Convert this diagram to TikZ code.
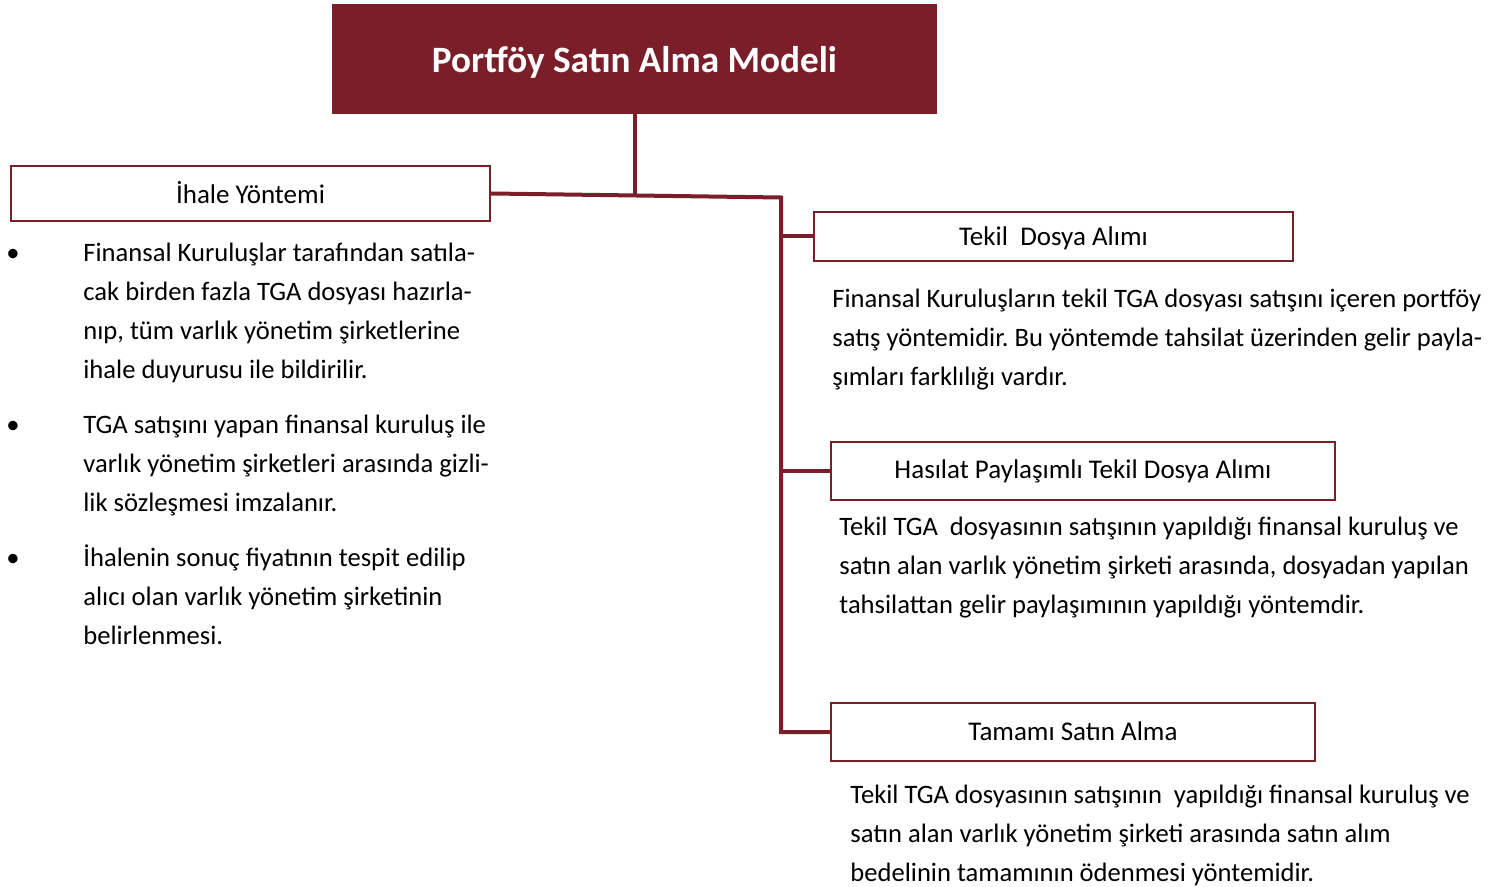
\documentclass[tikz,border=0pt]{standalone}
\usepackage{fontspec}
\setmainfont{Carlito}
\frenchspacing
\definecolor{maroon}{RGB}{122,30,42}
\tikzset{
  x=0.5pt, y=-0.5pt,
  conn/.style={draw=maroon, line width=2pt},
  headbox/.style={draw=maroon, line width=1.2pt, fill=white, inner sep=0pt,
    font=\fontsize{13.5}{17}\selectfont, text=black},
  bodytext/.style={anchor=north west, inner sep=0pt, align=left,
    font=\fontsize{13.3}{19.5}\selectfont, text=black},
  bul/.style={anchor=north west, inner sep=0pt, font=\fontsize{13.3}{19.5}\selectfont}
}
\begin{document}
\begin{tikzpicture}
\useasboundingbox (0,0) rectangle (1499,887);
% title
\node[fill=maroon, minimum width=302.5pt, minimum height=55pt, inner sep=0pt,
  text=white, font=\fontsize{18.6}{22}\bfseries] (title) at (634.5,59) {\raisebox{-7pt}[0pt][0pt]{Portföy Satın Alma Modeli}};
% heading boxes
\node[headbox, minimum width=239.5pt, minimum height=27.5pt] (ihale) at (250.5,193.5) {\raisebox{0.8pt}{İhale Yöntemi}};
\node[headbox, minimum width=239.5pt, minimum height=24.5pt] (tekil) at (1053.5,236.5) {\raisebox{-4.6pt}[0pt][0pt]{Tekil~ Dosya Alımı}};
\node[headbox, minimum width=252pt, minimum height=29pt] (hasilat) at (1083,471) {Hasılat Paylaşımlı Tekil Dosya Alımı};
\node[headbox, minimum width=242pt, minimum height=29pt] (tamami) at (1073,732) {\raisebox{0.8pt}{Tamamı Satın Alma}};
% junctions
\coordinate (jt) at (634.5,195.5);
\coordinate (jr) at (781,197.5);
\coordinate (jb) at (781,732);
% connectors
\draw[conn] (title.south) -- (jt);
\draw[conn] (ihale.east) -- (jr) -- (jb) -- (tamami.west);
\draw[conn] (781,236.5) coordinate (j1) -- (tekil.west);
\draw[conn] (781,471) coordinate (j2) -- (hasilat.west);
% left bullets
\node[bul] (b1) at (6,234.2) {\strut\textbullet};
\node[bodytext] (t1) at (83,234.2) {\strut Finansal Kuruluşlar tarafından satıla-\\cak birden fazla TGA dosyası hazırla-\\nıp, tüm varlık yönetim şirketlerine\\ihale duyurusu ile bildirilir.};
\node[bul] (b2) at (6,406.2) {\strut\textbullet};
\node[bodytext] (t2) at (83,406.2) {\strut TGA satışını yapan finansal kuruluş ile\\varlık yönetim şirketleri arasında gizli-\\lik sözleşmesi imzalanır.};
\node[bul] (b3) at (6,539.2) {\strut\textbullet};
\node[bodytext] (t3) at (83,539.2) {\strut İhalenin sonuç fiyatının tespit edilip\\alıcı olan varlık yönetim şirketinin\\belirlenmesi.};
% right texts
\node[bodytext] (r1) at (832,280.2) {\strut Finansal Kuruluşların tekil TGA dosyası satışını içeren portföy\\satış yöntemidir. Bu yöntemde tahsilat üzerinden gelir payla-\\şımları farklılığı vardır.};
\node[bodytext] (r2) at (839,508.2) {\strut Tekil TGA~ dosyasının satışının yapıldığı finansal kuruluş ve\\satın alan varlık yönetim şirketi arasında, dosyadan yapılan\\tahsilattan gelir paylaşımının yapıldığı yöntemdir.};
\node[bodytext] (r3) at (850,776.2) {\strut Tekil TGA dosyasının satışının~ yapıldığı finansal kuruluş ve\\satın alan varlık yönetim şirketi arasında satın alım\\bedelinin tamamının ödenmesi yöntemidir.};
\end{tikzpicture}
\end{document}
